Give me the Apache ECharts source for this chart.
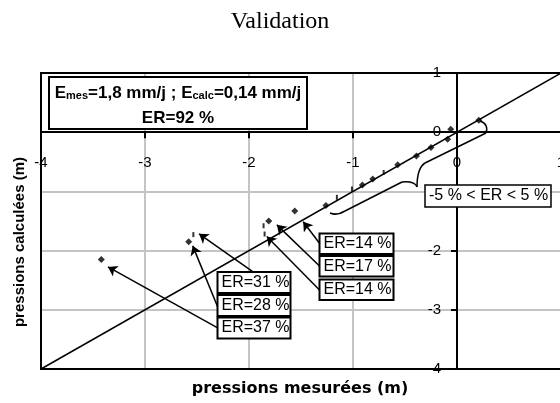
<!DOCTYPE html>
<html><head><meta charset="utf-8">
<script src="https://cdn.jsdelivr.net/npm/echarts@6/dist/echarts.min.js"></script>
<style>html,body{margin:0;padding:0;background:#fff}#c{width:560px;height:403px}</style>
</head><body><div id="c"></div>
<script>
// Axis range / ticks
const axisMin = -4, axisMax = 1, axisStep = 1;
// Measured vs calculated pressures (diamond markers)
const measX = [-3.42, -2.58, -1.81, -1.56, -1.26, -0.91, -0.81, -0.57, -0.39, -0.25, -0.09, -0.06, 0.21];
const calcY = [-2.15, -1.85, -1.50, -1.33, -1.24, -0.89, -0.79, -0.55, -0.40, -0.26, -0.12, 0.05, 0.20];
// small dash marks
const dashX = [-2.535, -1.86, -1.85, -1.155, -1.01, -0.705];
const dashY = [-1.73, -1.58, -1.72, -1.10, -0.96, -0.68];
// 1:1 line
const diagX = [-4, 1];
const diagY = [-4, 1];
// annotation arrows: from / to in data units
const arrowFrom = [[-1.961, -2.360], [-2.297, -2.970], [-2.297, -3.308], [-1.322, -1.875], [-1.322, -2.259], [-1.322, -2.665]];
const arrowTo   = [[-2.480, -1.717], [-2.541, -1.920], [-3.356, -2.276], [-1.479, -1.514], [-1.732, -1.565], [-1.829, -1.763]];
// annotation labels
const erLeft = ['ER=31 %', 'ER=28 %', 'ER=37 %'];
const erRight = ['ER=14 %', 'ER=17 %', 'ER=14 %'];

const chart = echarts.init(document.getElementById('c'), null, {renderer: 'canvas'});
const pts = measX.map((x, i) => [x, calcY[i]]);
const dashes = dashX.map((x, i) => [x, dashY[i]]);
const diag = diagX.map((x, i) => [x, diagY[i]]);
const arrows = arrowFrom.map((f, i) => [{coord: f, symbol: 'none'}, {coord: arrowTo[i], symbol: 'arrow', symbolSize: 9}]);

const G = {left: 41, top: 73, width: 520, height: 296};
// pixel offsets that place each axis on the other's zero
const xOff = -(G.height * (0 - axisMin) / (axisMax - axisMin));
const yOff = -(G.width * (0 - axisMin) / (axisMax - axisMin));

const SANS = 'Liberation Sans';
const boxes = [];
function box(x, y, w, h, text, lw) {
  boxes.push({type: 'rect', z: 100, shape: {x: x, y: y, width: w, height: h},
    style: {fill: '#fff', stroke: '#000', lineWidth: lw || 2}});
  boxes.push({type: 'text', z: 101, x: x + 4, y: y + h / 2,
    style: {text: text, font: '16px "' + SANS + '"', fill: '#000', verticalAlign: 'middle', textAlign: 'left'}});
}
erLeft.forEach((t, i) => box(217.5, [272, 295, 317.5][i], 73, 21, t));
erRight.forEach((t, i) => box(319.5, [233.5, 256, 279.5][i], 74, 20.5, t));
box(425, 185, 126, 22, '-5 % < ER < 5 %', 1.5);

const braceStyle = {fill: 'none', stroke: '#000', lineWidth: 1.5};
function bz(x1, y1, cx, cy, x2, y2) {
  return {type: 'bezierCurve', z: 90, shape: {x1: x1, y1: y1, cpx1: cx, cpy1: cy, x2: x2, y2: y2}, style: braceStyle};
}
function ln(x1, y1, x2, y2) {
  return {type: 'line', z: 90, shape: {x1: x1, y1: y1, x2: x2, y2: y2}, style: braceStyle};
}
const brace = [
  bz(480, 121, 489, 124, 486, 133),
  ln(486, 133, 425, 163),
  bz(425, 163, 417, 168, 417, 187),
  bz(417, 187, 415, 181, 402, 182),
  ln(402, 182, 345, 211),
  bz(345, 211, 337, 216, 330, 213)
];

const option = {
  animation: false,
  backgroundColor: '#fff',
  title: {text: 'Validation', left: 'center', top: 5,
    textStyle: {fontFamily: 'Liberation Serif', fontWeight: 'normal', fontSize: 24, color: '#000'}},
  grid: {left: G.left, top: G.top, width: G.width, height: G.height, show: true, borderColor: '#000', borderWidth: 2,
    backgroundColor: '#fff', containLabel: false, outerBoundsMode: 'none'},
  xAxis: {type: 'value', min: axisMin, max: axisMax, interval: axisStep, position: 'bottom', offset: xOff,
    axisLine: {onZero: false, lineStyle: {color: '#000', width: 2}},
    axisTick: {show: true, length: 6, lineStyle: {color: '#000', width: 2}},
    axisLabel: {margin: 23, color: '#000', fontFamily: SANS, fontSize: 15, showMinLabel: true, showMaxLabel: true, hideOverlap: false},
    splitLine: {show: true, lineStyle: {color: '#c4c4c4', width: 2}}},
  yAxis: {type: 'value', min: axisMin, max: axisMax, interval: axisStep, position: 'left', offset: yOff,
    axisLine: {onZero: false, lineStyle: {color: '#000', width: 2}},
    axisTick: {show: true, length: 6, lineStyle: {color: '#000', width: 2}},
    axisLabel: {margin: 16, color: '#000', fontFamily: SANS, fontSize: 15, showMinLabel: true, showMaxLabel: true, hideOverlap: false},
    splitLine: {show: true, lineStyle: {color: '#c4c4c4', width: 2}}},
  series: [
    {type: 'line', data: diag, symbol: 'none', silent: true,
      lineStyle: {color: '#000', width: 1.5}, z: 3,
      markLine: {silent: true, symbol: ['none', 'arrow'], symbolSize: 9, precision: 4,
        label: {show: false}, lineStyle: {color: '#000', width: 1.5, type: 'solid'},
        emphasis: {disabled: true}, data: arrows}},
    {type: 'scatter', data: pts, symbol: 'diamond', symbolSize: [7, 7], itemStyle: {color: '#000'}, z: 4, silent: true},
    {type: 'scatter', data: dashes, symbol: 'rect', symbolSize: [2, 5], itemStyle: {color: '#000'}, z: 4, silent: true}
  ],
  graphic: brace.concat([
    {type: 'rect', z: 50, silent: true, shape: {x: G.left, y: G.top, width: G.width, height: G.height},
      style: {fill: 'none', stroke: '#000', lineWidth: 2}},
    {type: 'rect', z: 100, shape: {x: 49, y: 77, width: 258, height: 52}, style: {fill: '#fff', stroke: '#000', lineWidth: 2}},
    {type: 'text', z: 101, x: 178, y: 93,
      style: {text: '{b|E}{s|mes}{b|=1,8 mm/j ; E}{s|calc}{b|=0,14 mm/j}', textAlign: 'center', verticalAlign: 'middle',
        rich: {b: {font: 'bold 17px "Liberation Sans"', fill: '#000', verticalAlign: 'bottom'},
               s: {font: 'bold 11px "Liberation Sans"', fill: '#000', verticalAlign: 'bottom'}}}},
    {type: 'text', z: 101, x: 178, y: 118,
      style: {text: 'ER=92 %', textAlign: 'center', verticalAlign: 'middle', font: 'bold 17px "Liberation Sans"', fill: '#000'}},
    {type: 'text', z: 101, x: 300, y: 389,
      style: {text: 'pressions mesurées (m)', textAlign: 'center', verticalAlign: 'middle', font: 'bold 16px "DejaVu Sans"', fill: '#000'}},
    {type: 'text', z: 101, x: 20, y: 242, rotation: Math.PI / 2,
      style: {text: 'pressions calculées (m)', textAlign: 'center', verticalAlign: 'middle', font: 'bold 15px "Liberation Sans"', fill: '#000'}}
  ]).concat(boxes)
};
chart.setOption(option);
</script></body></html>
